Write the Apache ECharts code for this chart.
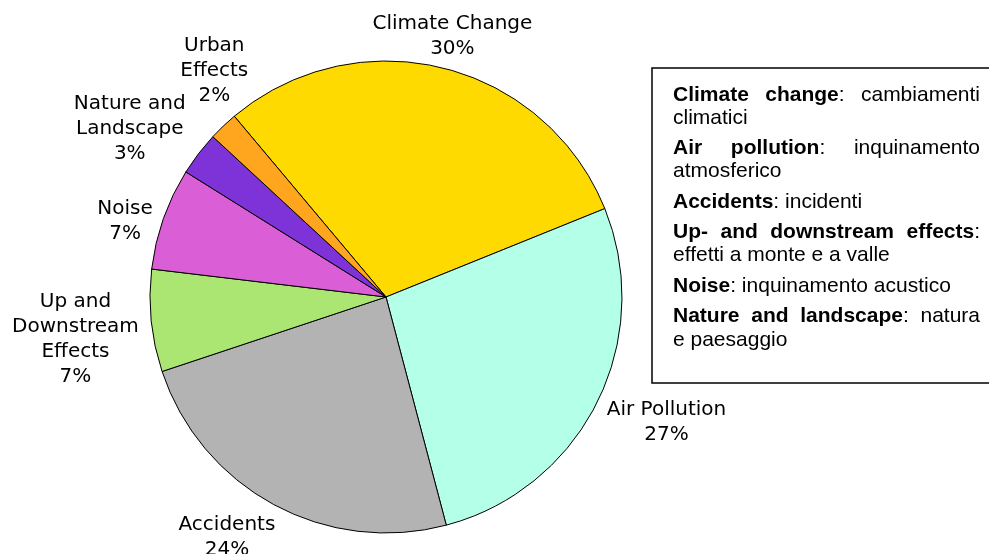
<!DOCTYPE html>
<html><head><meta charset="utf-8">
<script src="https://cdn.jsdelivr.net/npm/echarts@6/dist/echarts.min.js"></script>
<style>html,body{margin:0;padding:0;background:#fff}#c{width:989px;height:554px}</style>
</head><body><div id="c"></div>
<script>
// ---- data ----
const categories = ['Climate Change', 'Air Pollution', 'Accidents', 'Up and Downstream Effects', 'Noise', 'Nature and Landscape', 'Urban Effects'];
const labelTexts = ['Climate Change', 'Air Pollution', 'Accidents', 'Up and\nDownstream\nEffects', 'Noise', 'Nature and\nLandscape', 'Urban\nEffects'];
const values = [30, 27, 24, 7, 7, 3, 2];
const colors = ['#FFDA00', '#B3FFE8', '#B3B3B3', '#ABE673', '#DA5FD6', '#7E33D8', '#FFA51E'];
// glossary lines as in the box: words of runs [text, bold]; j = justified line
const glossLines = [
  {j: true,  words: [[['Climate', 1]], [['change', 1], [':', 0]], [['cambiamenti', 0]]]},
  {j: false, words: [[['climatici', 0]]]},
  {j: true,  words: [[['Air', 1]], [['pollution', 1], [':', 0]], [['inquinamento', 0]]]},
  {j: false, words: [[['atmosferico', 0]]]},
  {j: false, words: [[['Accidents', 1], [':', 0]], [['incidenti', 0]]]},
  {j: true,  words: [[['Up-', 1]], [['and', 1]], [['downstream', 1]], [['effects', 1], [':', 0]]]},
  {j: false, words: [[['effetti', 0]], [['a', 0]], [['monte', 0]], [['e', 0]], [['a', 0]], [['valle', 0]]]},
  {j: false, words: [[['Noise', 1], [':', 0]], [['inquinamento', 0]], [['acustico', 0]]]},
  {j: true,  words: [[['Nature', 1]], [['and', 1]], [['landscape', 1], [':', 0]], [['natura', 0]]]},
  {j: false, words: [[['e', 0]], [['paesaggio', 0]]]}
];

// ---- layout settings (not data) ----
const lineYs = [95, 118, 148.5, 171.5, 202, 232, 255.5, 286, 316.5, 340];
const labelNudge = [[-2, 14], [9, -11], [-24, -10], [-5, 11], [-3, 15], [-13, 18], [28, -16]];

const chart = echarts.init(document.getElementById('c'), null, {renderer: 'canvas'});

const FONT = '"Liberation Sans", Arial, sans-serif';
const FS = 21;
const boxL = 652, boxT = 68, boxR = 996, boxB = 383;
const txtL = 673, txtR = 980;
const ctx = document.createElement('canvas').getContext('2d');
function tw(t, bold) { ctx.font = (bold ? 'bold ' : '') + FS + 'px ' + FONT; return ctx.measureText(t).width; }
const wordW = wd => wd.reduce((s, r) => s + tw(r[0], r[1]), 0);
const spaceW = tw(' ', false);

const graphics = [{
  type: 'rect', shape: {x: boxL, y: boxT, width: boxR - boxL, height: boxB - boxT},
  style: {fill: '#fff', stroke: '#000', lineWidth: 1.5}, z: 1
}];
glossLines.forEach((ln, k) => {
  const y = lineYs[k];
  const total = ln.words.reduce((s, wd) => s + wordW(wd), 0);
  const gap = ln.j && ln.words.length > 1 ? (txtR - txtL - total) / (ln.words.length - 1) : spaceW;
  let x = txtL;
  ln.words.forEach(wd => {
    const rich = wd.map(r => '{' + (r[1] ? 'b' : 'r') + '|' + r[0] + '}').join('');
    graphics.push({
      type: 'text', x: x, y: y, z: 2,
      style: {
        text: rich, verticalAlign: 'middle', align: 'left',
        rich: {
          b: {fontFamily: FONT, fontSize: FS, fontWeight: 'bold', fill: '#000'},
          r: {fontFamily: FONT, fontSize: FS, fill: '#000'}
        }
      }
    });
    x += wordW(wd) + gap;
  });
});

const option = {
  backgroundColor: '#fff',
  animation: false,
  graphic: graphics,
  series: [{
    type: 'pie',
    center: [386, 297],
    radius: 236,
    startAngle: 130,
    clockwise: true,
    avoidLabelOverlap: false,
    data: categories.map((c, i) => ({
      name: c, value: values[i], itemStyle: {color: colors[i]},
      label: {formatter: p => labelTexts[i] + '\n' + Math.round(p.percent) + '%'}
    })),
    itemStyle: {borderColor: '#000', borderWidth: 1},
    label: {
      show: true, position: 'outside',
      fontFamily: 'DejaVu Sans', fontSize: 20, lineHeight: 25, color: '#000'
    },
    labelLine: {show: false},
    labelLayout: function (p) {
      const data = chart.getModel().getSeriesByIndex(0).getData();
      const l = data.getItemLayout(p.dataIndex);
      const mid = (l.startAngle + l.endAngle) / 2;
      const dx = Math.cos(mid), dy = Math.sin(mid);
      const ext = (Math.abs(dx) * p.labelRect.width + Math.abs(dy) * p.labelRect.height) / 2;
      const d = l.r + 3 + ext;
      const n = labelNudge[p.dataIndex];
      return {x: l.cx + d * dx + n[0], y: l.cy + d * dy + n[1], align: 'center', verticalAlign: 'middle'};
    },
    emphasis: {disabled: true}
  }]
};
chart.setOption(option);
</script></body></html>
